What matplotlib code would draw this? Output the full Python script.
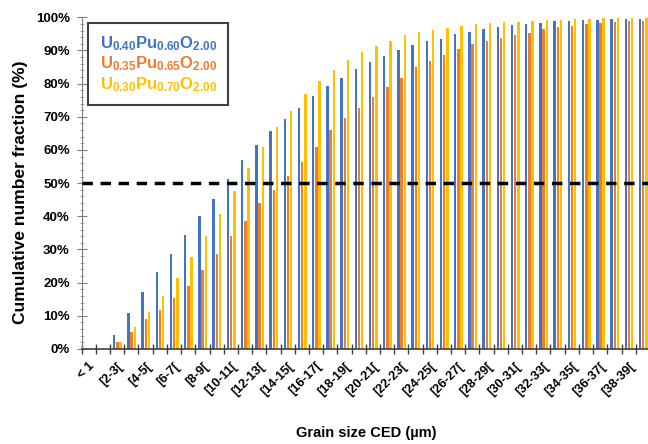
import matplotlib

matplotlib.use("Agg")
import matplotlib.pyplot as plt
import numpy as np
from matplotlib.ticker import MultipleLocator, PercentFormatter

plt.rcParams["font.family"] = ["Liberation Sans", "DejaVu Sans"]
plt.rcParams["font.weight"] = "bold"
plt.rcParams["mathtext.fontset"] = "custom"
plt.rcParams["mathtext.bf"] = "Liberation Sans:bold"
plt.rcParams["mathtext.rm"] = "Liberation Sans"

categories = ["< 1"] + [f"[{i}-{i + 1}[" for i in range(1, 40)]

u40_pu60 = [0, 0, 4.2, 10.7, 17.2, 23.1, 28.7, 34.3, 40.0, 45.2,
            51.2, 56.9, 61.4, 65.6, 69.2, 72.6, 76.2, 79.4, 81.8, 84.3,
            86.6, 88.4, 90.0, 91.6, 92.8, 93.6, 95.1, 95.6, 96.5, 97.1,
            97.6, 98.1, 98.4, 98.8, 99.0, 99.2, 99.2, 99.4, 99.4, 99.5]
u35_pu65 = [0, 0, 2.2, 5.2, 8.9, 11.7, 15.4, 19.0, 23.7, 28.7,
            34.0, 38.7, 44.1, 47.9, 52.3, 56.4, 60.9, 66.0, 69.5, 72.8,
            76.1, 79.0, 81.8, 85.0, 86.7, 88.6, 90.5, 91.9, 93.0, 93.9,
            94.7, 95.4, 96.4, 97.0, 97.5, 97.9, 98.4, 98.7, 98.8, 99.0]
u30_pu70 = [0, 0, 2.2, 6.5, 11.1, 16.0, 21.5, 27.8, 34.2, 40.8,
            47.7, 54.7, 60.9, 67.0, 71.7, 76.8, 80.9, 84.2, 87.1, 89.6,
            91.5, 92.8, 94.6, 95.5, 96.1, 96.7, 97.3, 98.0, 98.2, 98.5,
            98.7, 99.0, 99.2, 99.3, 99.5, 99.6, 99.7, 99.7, 99.7, 99.8]

series = [
    (r"$\mathbf{U_{0.40}Pu_{0.60}O_{2.00}}$", u40_pu60, "#4472C4"),
    (r"$\mathbf{U_{0.35}Pu_{0.65}O_{2.00}}$", u35_pu65, "#ED7D31"),
    (r"$\mathbf{U_{0.30}Pu_{0.70}O_{2.00}}$", u30_pu70, "#FFC000"),
]

fig = plt.figure(figsize=(6.48, 4.44), dpi=100)
ax = fig.add_axes([0.126, 0.214, 0.877, 0.747])

x = np.arange(len(categories)) + 0.52
offsets = [-0.225, 0.0, 0.225]
handles = []
for (label, vals, color), off in zip(series, offsets):
    h = ax.bar(x + off, vals, width=0.17, color=color, label=label)
    handles.append(h)

# 50 % reference line
ax.axhline(50, color="black", linewidth=2.5, linestyle=(0, (3, 2.2)), zorder=3)

ax.set_xlim(0, len(categories))
ax.set_ylim(0, 100)
ax.set_xticks(np.arange(len(categories) + 1))
ax.set_xticklabels([])
ax.set_xticks(np.arange(len(categories)) + 0.5, minor=True)
ax.set_xticklabels([c if i % 2 == 0 else "" for i, c in enumerate(categories)],
                   minor=True, rotation=45, ha="right", rotation_mode="anchor",
                   fontsize=9.2, fontweight="bold")
ax.tick_params(axis="x", which="major", direction="inout", length=7,
               width=1, color="#404040")
ax.tick_params(axis="x", which="minor", length=0, pad=8)

ax.yaxis.set_major_locator(MultipleLocator(10))
ax.yaxis.set_minor_locator(MultipleLocator(2))
ax.yaxis.set_major_formatter(PercentFormatter(decimals=0))
ax.tick_params(axis="y", which="major", direction="inout", length=7,
               width=0.8, color="#808080", labelsize=9.5, pad=5)
ax.tick_params(axis="y", which="minor", direction="inout", length=3,
               width=0.6, color="#999999")
for lab in ax.get_yticklabels():
    lab.set_fontweight("bold")

for side in ("top", "right"):
    ax.spines[side].set_visible(False)
ax.spines["left"].set_color("#808080")
ax.spines["bottom"].set_color("#404040")
ax.spines["bottom"].set_linewidth(1.2)

ax.set_xlabel("Grain size CED (µm)", fontsize=10.5, fontweight="bold", labelpad=20)
ax.set_ylabel("Cumulative number fraction (%)", fontsize=12.5, fontweight="bold")
ax.yaxis.set_label_coords(-0.095, 0.473)

leg = ax.legend(handles=handles, loc="upper left", bbox_to_anchor=(0.011, 0.984),
                borderaxespad=0, handlelength=0, handletextpad=0, fancybox=False,
                fontsize=12, borderpad=0.7, labelspacing=0.1,
                edgecolor="#404040", framealpha=1)
leg.get_frame().set_linewidth(1.5)
for h in leg.legend_handles:
    h.set_visible(False)
for txt, (_, _, color) in zip(leg.get_texts(), series):
    txt.set_color(color)

fig.savefig("out.png", dpi=100)
